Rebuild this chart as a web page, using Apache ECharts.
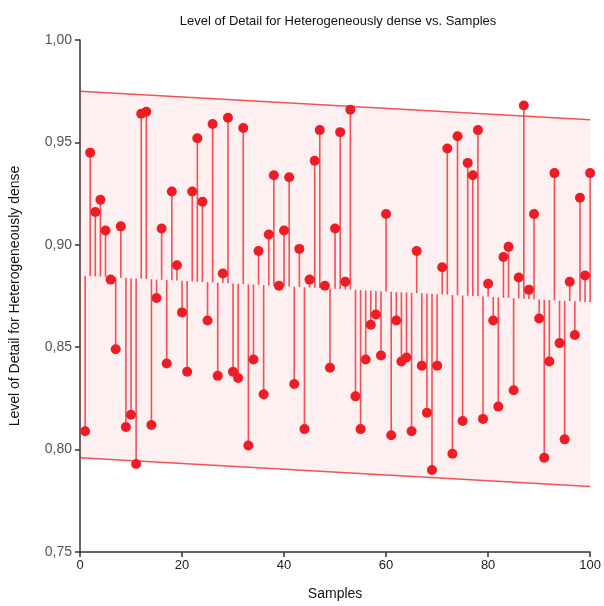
<!DOCTYPE html>
<html>
<head>
<meta charset="utf-8">
<script src="https://cdn.jsdelivr.net/npm/echarts@6/dist/echarts.min.js"></script>
<style>html,body{margin:0;padding:0;background:#fff}#c{width:604px;height:606px}</style>
</head>
<body>
<div id="c"></div>
<script>
var samples = [];
for (var k = 1; k <= 100; k++) samples.push(k);
var values = [
0.809,0.945,0.916,0.922,0.907,0.883,0.849,0.909,0.811,0.817,
0.793,0.964,0.965,0.812,0.874,0.908,0.842,0.926,0.890,0.867,
0.838,0.926,0.952,0.921,0.863,0.959,0.836,0.886,0.962,0.838,
0.835,0.957,0.802,0.844,0.897,0.827,0.905,0.934,0.880,0.907,
0.933,0.832,0.898,0.810,0.883,0.941,0.956,0.880,0.840,0.908,
0.955,0.882,0.966,0.826,0.810,0.844,0.861,0.866,0.846,0.915,
0.807,0.863,0.843,0.845,0.809,0.897,0.841,0.818,0.790,0.841,
0.889,0.947,0.798,0.953,0.814,0.940,0.934,0.956,0.815,0.881,
0.863,0.821,0.894,0.899,0.829,0.884,0.968,0.878,0.915,0.864,
0.796,0.843,0.935,0.852,0.805,0.882,0.856,0.923,0.885,0.935
];
var bandX = [0, 100];
var bandUpper = [0.975, 0.961];
var bandLower = [0.796, 0.782];
var trendLine = [0.885, 0.872];
var yTicks = [0.75, 0.80, 0.85, 0.90, 0.95, 1.00];

function trendAt(x) {
  var t = (x - bandX[0]) / (bandX[1] - bandX[0]);
  return trendLine[0] + t * (trendLine[1] - trendLine[0]);
}

var points = samples.map(function (s, i) { return [s, values[i]]; });
var bandData = [[bandX[0], bandLower[0], bandUpper[0]], [bandX[1], bandLower[1], bandUpper[1]]];

var chart = echarts.init(document.getElementById('c'), null, {renderer: 'canvas'});
var RED = '#ee1c25';
chart.setOption({
  animation: false,
  backgroundColor: '#ffffff',
  title: {
    text: 'Level of Detail for Heterogeneously dense vs. Samples',
    left: 333, top: 10, textAlign: 'center',
    textStyle: {fontFamily: 'Liberation Sans, Arial', fontSize: 13, fontWeight: 'normal', color: '#111'}
  },
  grid: {left: 76, right: 13, top: 40, bottom: 51, containLabel: false},
  xAxis: {
    type: 'value', min: 0, max: 100, interval: 20,
    name: 'Samples', nameLocation: 'middle', nameGap: 35,
    nameTextStyle: {fontFamily: 'Liberation Sans, Arial', fontSize: 14, color: '#111'},
    axisLine: {lineStyle: {color: '#333', width: 1.5}},
    axisTick: {show: true, length: 5, lineStyle: {color: '#333', width: 1.5}},
    axisLabel: {fontFamily: 'Liberation Sans, Arial', fontSize: 13, color: '#222', margin: 7},
    splitLine: {show: false}
  },
  yAxis: {
    type: 'value', min: yTicks[0], max: yTicks[yTicks.length - 1], interval: 0.05,
    name: 'Level of Detail for Heterogeneously dense', nameLocation: 'middle', nameGap: 58,
    nameTextStyle: {fontFamily: 'Liberation Sans, Arial', fontSize: 14, color: '#111'},
    axisLine: {show: true, lineStyle: {color: '#333', width: 1.5}},
    axisTick: {show: true, length: 5, lineStyle: {color: '#333', width: 1.5}},
    axisLabel: {
      fontFamily: 'Liberation Sans, Arial', fontSize: 14, color: '#555', margin: 8,
      formatter: function (v) { return v.toFixed(2).replace('.', ','); }
    },
    splitLine: {show: false}
  },
  series: [
    {
      type: 'custom',
      data: bandData,
      encode: {x: 0, y: [1, 2]},
      silent: true,
      z: 1,
      renderItem: function (params, api) {
        if (params.dataIndex !== 0) return;
        var pts = bandData;
        var upper = pts.map(function (d) { return api.coord([d[0], d[2]]); });
        var lower = pts.map(function (d) { return api.coord([d[0], d[1]]); });
        var poly = upper.concat(lower.slice().reverse());
        return {
          type: 'group',
          children: [
            {type: 'polygon', shape: {points: poly}, style: {fill: 'rgba(238,28,37,0.07)', stroke: null}},
            {type: 'polyline', shape: {points: upper}, style: {stroke: 'rgba(238,28,37,0.75)', lineWidth: 1.5, fill: null}},
            {type: 'polyline', shape: {points: lower}, style: {stroke: 'rgba(238,28,37,0.75)', lineWidth: 1.5, fill: null}}
          ]
        };
      }
    },
    {
      type: 'custom',
      data: points,
      encode: {x: 0, y: 1},
      silent: true,
      z: 2,
      renderItem: function (params, api) {
        var x = api.value(0), y = api.value(1);
        var p0 = api.coord([x, trendAt(x)]);
        var p1 = api.coord([x, y]);
        return {
          type: 'line',
          shape: {x1: p0[0], y1: p0[1], x2: p1[0], y2: p1[1]},
          style: {stroke: 'rgba(238,28,37,0.75)', lineWidth: 1.6}
        };
      }
    },
    {
      type: 'scatter',
      data: points,
      symbol: 'circle',
      symbolSize: 10,
      itemStyle: {color: RED, opacity: 1},
      z: 3
    }
  ]
});
</script>
</body>
</html>
